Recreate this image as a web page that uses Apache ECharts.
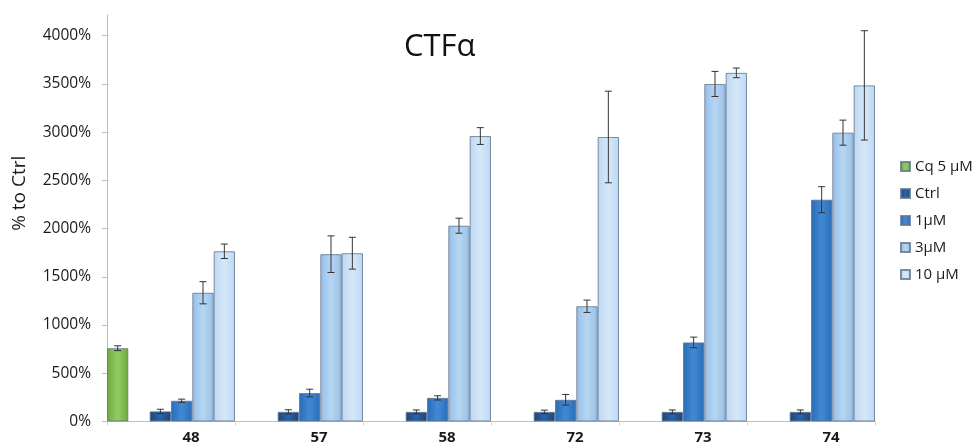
<!DOCTYPE html>
<html>
<head>
<meta charset="utf-8">
<script src="https://cdn.jsdelivr.net/npm/echarts@6/dist/echarts.min.js"></script>
<style>
html,body{margin:0;padding:0;background:#fff;}
#chart{width:974px;height:446px;}
</style>
</head>
<body>
<div id="chart"></div>
<script>
// ---- data ----
var categories = ['48', '57', '58', '72', '73', '74'];
var yTicks = [0, 500, 1000, 1500, 2000, 2500, 3000, 3500, 4000];
var seriesNames = ['Cq 5 µM', 'Ctrl', '1µM', '3µM', '10 µM'];

var cqValues   = [760, null, null, null, null, null];
var ctrlValues = [105, 100, 100, 100, 100, 100];
var um1Values  = [215, 295, 245, 225, 820, 2300];
var um3Values  = [1335, 1735, 2030, 1195, 3500, 2995];
var um10Values = [1765, 1745, 2960, 2950, 3615, 3485];

var cqErr   = [25, null, null, null, null, null];
var ctrlErr = [22, 22, 20, 18, 20, 20];
var um1Err  = [17, 40, 22, 55, 55, 135];
var um3Err  = [115, 190, 78, 64, 130, 130];
var um10Err = [75, 165, 87, 475, 50, 567];

// ---- build ----
var slots = 6; // Cq, (empty), Ctrl, 1µM, 3µM, 10µM
var seriesDefs = [
  {name: seriesNames[0], data: cqValues,   err: cqErr,   slot: 0, c1: '#6ea93f', c2: '#92cb62'},
  {name: seriesNames[1], data: ctrlValues, err: ctrlErr, slot: 2, c1: '#1b4679', c2: '#2d64a3'},
  {name: seriesNames[2], data: um1Values,  err: um1Err,  slot: 3, c1: '#2a6db5', c2: '#4189d6'},
  {name: seriesNames[3], data: um3Values,  err: um3Err,  slot: 4, c1: '#98bfe6', c2: '#b6d5f3'},
  {name: seriesNames[4], data: um10Values, err: um10Err, slot: 5, c1: '#bcd8f1', c2: '#d6e8f9'}
];

function grad(c1, c2) {
  return new echarts.graphic.LinearGradient(0, 0, 1, 0, [
    {offset: 0, color: c1}, {offset: 0.5, color: c2}, {offset: 1, color: c1}
  ]);
}

var series = [];
var barsBySlot = {};
seriesDefs.forEach(function (d) { barsBySlot[d.slot] = d; });
for (var s = 0; s < slots; s++) {
  var d = barsBySlot[s];
  if (d) {
    series.push({
      name: d.name, type: 'bar', data: d.data.map(function (v) { return v == null ? '-' : v; }),
      barGap: '0%', barCategoryGap: '0%',
      itemStyle: {color: grad(d.c1, d.c2), borderColor: 'rgba(95,115,140,0.8)', borderWidth: 1},
      emphasis: {disabled: true}
    });
  } else {
    series.push({name: '_blank', type: 'bar', data: categories.map(function () { return '-'; }),
      barGap: '0%', barCategoryGap: '0%'});
  }
}

var errData = [];
seriesDefs.forEach(function (d) {
  d.data.forEach(function (v, i) {
    if (v != null && d.err[i] != null) errData.push([i, d.slot, v - d.err[i], v + d.err[i]]);
  });
});

series.push({
  type: 'custom', name: 'err', silent: true, z: 10,
  data: errData,
  encode: {x: 0, y: [2, 3]},
  renderItem: function (params, api) {
    var ci = api.value(0), slot = api.value(1);
    var lo = api.coord([ci, api.value(2)]);
    var hi = api.coord([ci, api.value(3)]);
    var bw = api.size([1, 0])[0];
    var x = lo[0] - bw / 2 + (slot + 0.5) * bw / slots;
    var cap = 3.5;
    var st = {stroke: '#333', lineWidth: 1};
    return {type: 'group', children: [
      {type: 'line', shape: {x1: x, y1: lo[1], x2: x, y2: hi[1]}, style: st},
      {type: 'line', shape: {x1: x - cap, y1: lo[1], x2: x + cap, y2: lo[1]}, style: st},
      {type: 'line', shape: {x1: x - cap, y1: hi[1], x2: x + cap, y2: hi[1]}, style: st}
    ]};
  }
});

var font = '"Open Sans", "DejaVu Sans", sans-serif';
var chart = echarts.init(document.getElementById('chart'), null, {renderer: 'canvas'});
chart.setOption({
  animation: false,
  textStyle: {fontFamily: font},
  title: {text: 'CTFα', left: 399, top: 27,
    textStyle: {fontFamily: font, fontSize: 31, fontWeight: 'normal', color: '#111'}},
  legend: {
    data: seriesNames, orient: 'vertical', left: 895, top: 154,
    itemWidth: 9, itemHeight: 9, itemGap: 12, icon: 'rect',
    textStyle: {fontFamily: font, fontSize: 15, color: '#1a1a1a'}
  },
  grid: {left: 107, right: 99, top: 15, bottom: 24.5, containLabel: false},
  xAxis: {
    type: 'category', data: categories, boundaryGap: true,
    axisLine: {lineStyle: {color: '#bdbdbd'}},
    axisTick: {show: true, alignWithLabel: false, length: 4, lineStyle: {color: '#d0d0d0'}},
    axisLabel: {fontFamily: font, fontSize: 15, fontWeight: 'bold', color: '#1a1a1a', margin: 9,
      padding: [0, 0, 0, 40]}
  },
  yAxis: {
    type: 'value', min: 0, max: 4215,
    name: '% to Ctrl', nameLocation: 'middle', nameGap: 78, nameRotate: 90,
    nameTextStyle: {fontFamily: font, fontSize: 19, color: '#1a1a1a', padding: [0, 0, 0, 50]},
    axisLine: {show: true, lineStyle: {color: '#bdbdbd'}},
    axisTick: {show: true, length: 5, lineStyle: {color: '#bdbdbd'}, customValues: yTicks},
    axisLabel: {fontFamily: font, fontSize: 15.5, color: '#1a1a1a', margin: 16,
      customValues: yTicks, formatter: function (v) { return v + '%'; }},
    splitLine: {show: false}
  },
  series: series
});
</script>
</body>
</html>
